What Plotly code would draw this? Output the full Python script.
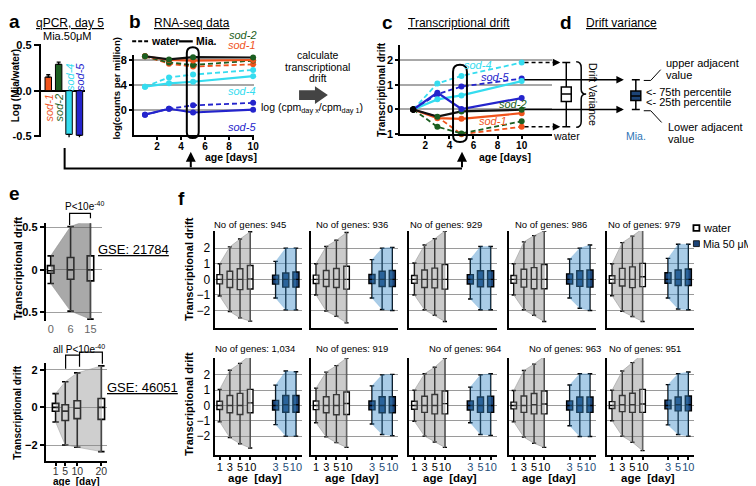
import plotly.graph_objects as go

W, H = 756, 486
FONT = "Liberation Sans, Arial, sans-serif"


def px(x):
    return x / W


def py(y):
    return 1 - y / H


# ---------------- data ----------------
# a : qPCR day 5
qpcr_genes = ["sod-1", "sod-2", "sod-4", "sod-5"]
qpcr_vals = [0.15, 0.29, -0.48, -0.49]
qpcr_err = [0.025, 0.025, 0.08, 0.08]

gene_colors = ["#f0531c", "#1b5e20", "#35dcef", "#2424cc"]
solid_line_colors = ["#f0531c", "#111111", "#35dcef", "#2424cc"]

# b : RNA-seq log(cpm), days 1,3,5,10
days = [1, 3, 5, 10]
cpm_sod1_water = [8.6, 7.4, 6.95, 7.3]
cpm_sod1_mia = [8.6, 8.0, 7.9, 8.0]
cpm_sod2_water = [8.6, 7.6, 7.2, 7.9]
cpm_sod2_mia = [8.6, 8.1, 8.45, 8.4]
cpm_sod4_water = [3.7, 5.2, 5.65, 6.4]
cpm_sod4_mia = [3.7, 4.25, 4.5, 5.4]
cpm_sod5_water = [-0.8, 0.15, 0.7, 1.1]
cpm_sod5_mia = [-0.8, 0.15, -0.45, 0.0]

# c : transcriptional drift
drift_sod1_water = [0, -0.3, -1.0, -0.7]
drift_sod1_mia = [0, -0.35, -0.38, -0.15]
drift_sod2_water = [0, -0.7, -0.97, -0.48]
drift_sod2_mia = [0, -0.29, -0.08, -0.01]
drift_sod4_water = [0, 1.05, 1.36, 1.9]
drift_sod4_mia = [0, 0.41, 0.57, 1.15]
drift_sod5_water = [0, 0.62, 0.93, 1.25]
drift_sod5_mia = [0, 0.68, 0.02, 0.46]

# d : schematic drift-variance boxes (same scale as c)
d_groups = ["water", "Mia."]
d_q1 = [0.32, 0.36]
d_median = [0.63, 0.55]
d_q3 = [0.91, 0.75]
d_low = [-0.7, 0.0]
d_high = [1.9, 1.2]

# e : GSE 21784
e1_ages = ["0", "6", "15"]
e1_q1 = [-0.04, -0.11, -0.13]
e1_med = [-0.01, 0.0, 0.0]
e1_q3 = [0.05, 0.146, 0.165]
e1_low = [-0.16, -0.485, -0.58]
e1_high = [0.165, 0.51, 0.6]

# e : GSE 46051
e2_ages = [1, 5, 10, 20]
e2_q1 = [-0.21, -0.7, -0.6, -0.64]
e2_med = [0.0, -0.2, -0.05, 0.0]
e2_q3 = [0.21, 0.14, 0.35, 0.47]
e2_low = [-0.78, -2.0, -2.12, -2.35]
e2_high = [0.73, 1.36, 1.83, 2.2]

# f : 10 gene sets
f_genes = ["945", "936", "929", "986", "979", "1,034", "919", "964", "963", "951"]
f_water_ages = ["1", "3", "5", "10"]
f_mia_ages = ["3", "5", "10"]
f_w_hi = [[1.0, 2.08, 2.58, 3.05], [1.0, 2.1, 2.5, 3.0], [1.05, 2.2, 2.6, 3.1],
          [1.0, 2.4, 2.8, 3.1], [1.0, 2.35, 2.77, 3.25], [1.05, 2.3, 2.75, 3.3],
          [1.13, 2.18, 2.6, 3.1], [1.0, 2.07, 2.5, 3.1], [0.98, 2.28, 2.7, 3.2],
          [1.0, 2.25, 2.8, 3.37]]
f_w_lo = [[-1.07, -2.06, -2.47, -2.68], [-1.0, -2.03, -2.37, -2.79], [-1.0, -1.95, -2.3, -2.7],
          [-1.0, -1.95, -2.3, -2.7], [-1.05, -2.05, -2.38, -2.7], [-1.07, -2.1, -2.5, -2.78],
          [-1.13, -2.05, -2.43, -2.74], [-1.03, -2.0, -2.39, -2.74], [-1.07, -2.07, -2.47, -2.74],
          [-1.0, -2.0, -2.4, -2.95]]
f_w_q3 = [[0.3, 0.52, 0.68, 0.89], [0.27, 0.57, 0.69, 0.84], [0.25, 0.6, 0.72, 0.94],
          [0.25, 0.65, 0.75, 0.95], [0.23, 0.7, 0.8, 1.02], [0.28, 0.65, 0.79, 1.05],
          [0.29, 0.57, 0.71, 0.88], [0.28, 0.6, 0.72, 0.95], [0.22, 0.62, 0.78, 0.95],
          [0.25, 0.65, 0.8, 1.05]]
f_w_q1 = [[-0.29, -0.52, -0.66, -0.62], [-0.27, -0.46, -0.52, -0.63], [-0.25, -0.52, -0.55, -0.63],
          [-0.25, -0.5, -0.6, -0.6], [-0.25, -0.43, -0.53, -0.47], [-0.26, -0.48, -0.59, -0.48],
          [-0.27, -0.48, -0.61, -0.59], [-0.25, -0.45, -0.55, -0.55], [-0.22, -0.45, -0.55, -0.55],
          [-0.2, -0.4, -0.45, -0.45]]
f_w_med = [[0, 0, 0, 0.02], [0, 0, 0, 0], [0, 0, 0, 0], [0, 0, 0, 0], [0, 0, 0, 0.17],
           [0, 0, 0, 0.17], [0, 0, 0, 0.13], [0, 0, 0, 0.12], [0, 0, 0.05, 0.1], [0, 0.05, 0.05, 0.1]]
f_m_hi = [[1.15, 2.0, 2.0], [1.26, 2.0, 2.05], [1.3, 2.1, 2.1], [1.3, 2.0, 2.2], [1.34, 2.25, 2.25],
          [1.33, 2.25, 2.2], [1.28, 2.0, 2.03], [1.2, 2.0, 2.07], [1.34, 2.07, 2.07], [1.36, 2.08, 2.19]]
f_m_lo = [[-1.2, -1.96, -1.96], [-1.2, -1.93, -2.0], [-1.26, -1.95, -1.95], [-1.2, -1.85, -2.0],
          [-1.2, -1.9, -1.95], [-1.25, -2.0, -2.0], [-1.21, -1.9, -1.97], [-1.13, -1.9, -1.95],
          [-1.32, -2.03, -2.03], [-1.27, -1.9, -2.0]]
f_m_q3 = [[0.27, 0.41, 0.47], [0.31, 0.52, 0.57], [0.3, 0.55, 0.55], [0.35, 0.55, 0.6],
          [0.42, 0.6, 0.66], [0.33, 0.65, 0.65], [0.29, 0.57, 0.57], [0.3, 0.55, 0.6],
          [0.3, 0.55, 0.55], [0.35, 0.55, 0.62]]
f_m_q1 = [[-0.31, -0.5, -0.5], [-0.27, -0.46, -0.46], [-0.3, -0.48, -0.48], [-0.3, -0.45, -0.5],
          [-0.25, -0.4, -0.4], [-0.3, -0.44, -0.44], [-0.29, -0.48, -0.48], [-0.3, -0.45, -0.45],
          [-0.3, -0.45, -0.45], [-0.22, -0.35, -0.35]]
f_m_med = [[0, 0, 0], [0, 0, 0], [0, 0, 0], [0, 0, 0], [0, 0, 0],
           [0, 0.05, 0.05], [0, 0, 0], [0, 0, 0], [0, 0, 0], [0, 0.05, 0.05]]

# ---------------- styling helpers ----------------
NAVY = "#1d4477"
fig = go.Figure()
layout = dict(width=W, height=H, margin=dict(l=0, r=0, t=0, b=0),
              paper_bgcolor="white", plot_bgcolor="rgba(0,0,0,0)", showlegend=False,
              font=dict(family=FONT, color="black", size=10))
shapes = []
ann = []

base = dict(showgrid=False, zeroline=False, showline=True, linecolor="black", linewidth=2,
            ticks="outside", tickcolor="black", ticklen=3, tickwidth=1.5, fixedrange=True,
            tickangle=0)


def txt(x, y, s, size=10, color="black", xanchor="center", angle=0):
    ann.append(dict(x=px(x), y=py(y), xref="paper", yref="paper", text=s, showarrow=False,
                    font=dict(size=size, color=color, family=FONT), xanchor=xanchor,
                    yanchor="middle", textangle=angle))


def pline(points, width=2, color="black", dash=None, fill=None):
    d = "M " + " L ".join(f"{px(a):.5f},{py(b):.5f}" for a, b in points)
    if fill:
        d += " Z"
    s = dict(type="path", path=d, xref="paper", yref="paper",
             line=dict(color=color, width=width, dash=dash) if width else dict(width=0))
    if fill:
        s["fillcolor"] = fill
    shapes.append(s)


def rrect(x0, y0, x1, y1, r, width=2):
    P = lambda a, b: f"{px(a):.5f},{py(b):.5f}"
    d = (f"M {P(x0 + r, y0)} L {P(x1 - r, y0)} Q {P(x1, y0)} {P(x1, y0 + r)} "
         f"L {P(x1, y1 - r)} Q {P(x1, y1)} {P(x1 - r, y1)} L {P(x0 + r, y1)} "
         f"Q {P(x0, y1)} {P(x0, y1 - r)} L {P(x0, y0 + r)} Q {P(x0, y0)} {P(x0 + r, y0)} Z")
    shapes.append(dict(type="path", path=d, xref="paper", yref="paper",
                       line=dict(color="black", width=width)))


def arrow(xt, yt, ax, ay, width=2, yref="paper"):
    ann.append(dict(x=px(xt), y=(py(yt) if yref == "paper" else yt), xref="paper", yref=yref,
                    ax=ax, ay=ay, showarrow=True, arrowhead=2, arrowsize=1, arrowwidth=width,
                    arrowcolor="black", text="", standoff=0))


# ---------------- panel a ----------------
layout["xaxis"] = dict(base, domain=[px(33), px(78)], range=[-0.72, 3.58], anchor="y",
                       showline=False, ticks="", showticklabels=False, type="category")
layout["yaxis"] = dict(base, domain=[py(127), py(32)], range=[-0.51, 0.51], anchor="x",
                       tickvals=[-0.5, 0, 0.5], ticktext=["-0.5", "0.0", "0.5"], ticklen=5,
                       tickfont=dict(size=11, weight="bold"), zeroline=True,
                       zerolinecolor="black", zerolinewidth=2)
fig.add_trace(go.Bar(x=qpcr_genes, y=qpcr_vals, width=0.62, xaxis="x", yaxis="y",
                     marker=dict(color=gene_colors, line=dict(color="black", width=1)),
                     error_y=dict(type="data", symmetric=False,
                                  array=[e if v > 0 else 0 for v, e in zip(qpcr_vals, qpcr_err)],
                                  arrayminus=[e if v < 0 else 0 for v, e in zip(qpcr_vals, qpcr_err)],
                                  color="black", thickness=1.3, width=2),
                     cliponaxis=False))
txt(7, 9, "<b>a</b>", 19)
txt(62, 10, "<u>qPCR, day 5</u>", 12)
txt(7, 74, "<b>Log (Mia/water)</b>", 10, angle=-90)
txt(60, 24, "Mia.50μM", 11)
for xx, yy, g, col in [(41, 97, "sod-1", gene_colors[0]), (51, 97, "sod-2", gene_colors[1]),
                       (62, 66, "sod-4", gene_colors[2]), (72, 66, "sod-5", gene_colors[3])]:
    txt(xx, yy, f"<i>{g}</i>", 11, color=col, angle=-90)

# ---------------- panel b ----------------
layout["xaxis2"] = dict(base, domain=[px(127), px(248)], range=[0.1, 10.1], anchor="y2",
                        tickvals=[2, 4, 6, 8, 10], tickfont=dict(size=10, weight="bold"),
                        ticklabelstandoff=-2)
layout["yaxis2"] = dict(base, domain=[py(125), py(43)], range=[-4.1, 8.8], anchor="x2",
                        tickvals=[0, 4, 8], tickfont=dict(size=11, weight="bold"),
                        showgrid=True, gridcolor="#a8a8a8", gridwidth=1.5)
b_water = [cpm_sod1_water, cpm_sod2_water, cpm_sod4_water, cpm_sod5_water]
b_mia = [cpm_sod1_mia, cpm_sod2_mia, cpm_sod4_mia, cpm_sod5_mia]
for i in range(4):
    fig.add_trace(go.Scatter(x=days, y=b_water[i], mode="lines+markers", xaxis="x2", yaxis="y2",
                             line=dict(color=gene_colors[i], width=1.8, dash="5px,3px"),
                             marker=dict(size=6, color=gene_colors[i]), cliponaxis=False))
for i in range(4):
    fig.add_trace(go.Scatter(x=days, y=b_mia[i], mode="lines+markers", xaxis="x2", yaxis="y2",
                             line=dict(color=solid_line_colors[i], width=2.2),
                             marker=dict(size=6, color=gene_colors[i]), cliponaxis=False))
rrect(180, 35, 192, 128, 6)
txt(128, 9, "<b>b</b>", 19)
txt(185, 10, "<u>RNA-seq data</u>", 12)
txt(109, 77, "<b>log(counts per million)</b>", 9.5, angle=-90)
pline([(125, 29), (141, 29)], width=2, dash="4px,2px")
txt(142, 29, "<b>water</b>", 10.5, xanchor="left")
pline([(172, 29), (186, 29)], width=2.2)
txt(187, 29, "<b>Mia.</b>", 10.5, xanchor="left")
txt(237, 22, "<i>sod-2</i>", 11, color=gene_colors[1])
txt(236, 33, "<i>sod-1</i>", 11, color=gene_colors[0])
txt(236, 80, "<i>sod-4</i>", 11, color=gene_colors[2])
txt(236, 117, "<i>sod-5</i>", 11, color=gene_colors[3])
txt(224, 147, "<b>age [days]</b>", 10.5)

# middle: calculation arrow
txt(312, 43, "calculate", 10.5)
txt(312, 55, "transcriptional", 10.5)
txt(312, 67, "drift", 10.5)
pline([(293, 79), (309, 79), (309, 75), (322, 84), (309, 93), (309, 89), (293, 89)],
      width=0, fill="#444444")
txt(306, 97, "log (cpm<sub>day x</sub>/cpm<sub>day 1</sub>)", 10.5)

# ---------------- panel c ----------------
layout["xaxis3"] = dict(base, domain=[px(395), px(548)], range=[-0.07, 12.55], anchor="y3",
                        tickvals=[2, 4, 6, 8, 10], tickfont=dict(size=10, weight="bold"),
                        ticklabelstandoff=-2)
layout["yaxis3"] = dict(base, domain=[py(124), py(33)], range=[-1.0, 2.6], anchor="x3",
                        tickvals=[-1, 0, 1, 2], ticktext=["−1", "0", "1", "2"],
                        tickfont=dict(size=11, weight="bold"),
                        showgrid=True, gridcolor="#a8a8a8", gridwidth=1.5)
c_water = [drift_sod1_water, drift_sod2_water, drift_sod4_water, drift_sod5_water]
c_mia = [drift_sod1_mia, drift_sod2_mia, drift_sod4_mia, drift_sod5_mia]
for i in range(4):
    fig.add_trace(go.Scatter(x=days, y=c_water[i], mode="lines+markers", xaxis="x3", yaxis="y3",
                             line=dict(color=gene_colors[i], width=1.8, dash="5px,3px"),
                             marker=dict(size=6, color=["black"] + [gene_colors[i]] * 3),
                             cliponaxis=False))
for i in range(4):
    fig.add_trace(go.Scatter(x=days, y=c_mia[i], mode="lines+markers", xaxis="x3", yaxis="y3",
                             line=dict(color=solid_line_colors[i], width=2.2),
                             marker=dict(size=6, color=["black"] + [gene_colors[i]] * 3),
                             cliponaxis=False))
rrect(448, 53, 462, 132, 7)
txt(382, 10, "<b>c</b>", 19)
txt(454, 10, "<u>Transcriptional drift</u>", 12)
txt(376, 78, "<b>Transcriptional drift</b>", 10, angle=-90)
txt(500, 147, "<b>age [days]</b>", 10.5)
txt(473, 53, "<i>sod-4</i>", 11, color=gene_colors[2])
txt(490, 65, "<i>sod-5</i>", 11, color=gene_colors[3])
txt(508, 93, "<i>sod-2</i>", 11, color=gene_colors[1])
txt(488, 110, "<i>sod-1</i>", 11, color=gene_colors[0])

# arrows c -> d (y in data units of c): water extremes dashed, Mia extremes solid
for yv in [d_high[0], d_low[0]]:
    shapes.append(dict(type="line", xref="paper", yref="y3", x0=px(520), x1=px(550), y0=yv, y1=yv,
                       line=dict(color="black", width=1.5, dash="4px,3px")))
    arrow(556, yv, -8, 0, width=1.5, yref="y3")
for yv in [d_high[1], d_low[1]]:
    arrow(620, yv, -(620 - 519), 0, width=1.5, yref="y3")

# ---------------- panel d ----------------
layout["xaxis4"] = dict(domain=[px(550), px(650)], range=[0, 100], anchor="y4", visible=False,
                        fixedrange=True)
layout["yaxis4"] = dict(domain=[py(124), py(33)], range=[-1.0, 2.6], anchor="x4", visible=False,
                        fixedrange=True)
for j, (xx, fc) in enumerate([(12, "white"), (82, NAVY)]):
    fig.add_trace(go.Box(x=[xx], q1=[d_q1[j]], median=[d_median[j]], q3=[d_q3[j]],
                         lowerfence=[d_low[j]], upperfence=[d_high[j]], width=10,
                         whiskerwidth=0.8, fillcolor=fc, line=dict(color="black", width=1.5),
                         boxpoints=False, xaxis="x4", yaxis="y4", hoverinfo="skip"))
# brace
Pd = lambda a, b: f"{px(a):.5f},{py(b):.5f}"
shapes.append(dict(type="path", xref="paper", yref="paper", line=dict(color="black", width=1.5),
                   path=(f"M {Pd(572, 50)} Q {Pd(577, 50)} {Pd(577, 56)} L {Pd(577, 78)} "
                         f"Q {Pd(577, 83)} {Pd(582, 83)} Q {Pd(577, 83)} {Pd(577, 88)} "
                         f"L {Pd(577, 111)} Q {Pd(577, 117)} {Pd(572, 117)}")))
txt(589, 83, "Drift Variance", 10.5, angle=90)
txt(562, 10, "<b>d</b>", 19)
txt(618, 10, "<u>Drift variance</u>", 12)
pline([(640, 69), (647, 69), (657, 58)], width=1)
pline([(640, 100), (647, 100), (658, 112)], width=1)
txt(660, 51, "upper adjacent", 11, xanchor="left")
txt(660, 63, "value", 11, xanchor="left")
txt(640, 81, "&lt;- 75th percentile", 11, xanchor="left")
txt(640, 91, "&lt;- 25th percentile", 11, xanchor="left")
txt(662, 117, "Lower adjacent", 11, xanchor="left")
txt(662, 129, "value", 11, xanchor="left")
txt(562, 126, "water", 10.5)
txt(632, 126, "Mia.", 10.5, color="#2e75b6")

# connector
pline([(57, 138), (57, 159), (457, 159)], width=2)
arrow(184, 142, 0, 17, width=2)
arrow(457, 142, 0, 17, width=2)

# ---------------- panel e ----------------
layout["xaxis5"] = dict(base, domain=[px(38), px(95)], range=[-0.25, 2.6], anchor="y5",
                        showline=False, ticks="", type="category",
                        tickfont=dict(size=11, color="#666666"))
layout["yaxis5"] = dict(base, domain=[py(315), py(215)], range=[-0.6, 0.55], anchor="x5",
                        tickvals=[-0.5, 0, 0.5], ticktext=["-0.5", "0", "0.5"], ticklen=4,
                        tickfont=dict(size=11, weight="bold"),
                        showgrid=True, gridcolor="#a0a0a0", gridwidth=1.2)
fig.add_trace(go.Scatter(x=e1_ages + e1_ages[::-1], y=e1_high + e1_low[::-1], fill="toself",
                         fillcolor="rgba(90,90,90,0.52)", line=dict(color="#888888", width=0.5),
                         mode="lines", xaxis="x5", yaxis="y5", hoverinfo="skip"))
fig.add_trace(go.Box(x=e1_ages, q1=e1_q1, median=e1_med, q3=e1_q3, lowerfence=e1_low,
                     upperfence=e1_high, width=0.33, whiskerwidth=1, fillcolor="white",
                     line=dict(color="black", width=1.6), boxpoints=False,
                     xaxis="x5", yaxis="y5"))
txt(7, 185, "<b>e</b>", 19)
txt(10, 261, "<b>Transcriptional drift</b>", 11, angle=-90)
txt(77, 197, "P&lt;10e<sup>-40</sup>", 10)
pline([(62, 217), (62, 205), (83, 205), (83, 210)], width=1.2)
txt(126, 242, "<u>GSE: 21784</u>", 13)

layout["xaxis6"] = dict(base, domain=[px(38), px(100)], range=[-3.1, 22.5], anchor="y6",
                        tickvals=e2_ages, tickfont=dict(size=10.5, color="#333333"),
                        ticklabelstandoff=-3)
layout["yaxis6"] = dict(base, domain=[py(458), py(358)], range=[-2.83, 2.36], anchor="x6",
                        tickvals=[-2, 0, 2], ticklen=4, tickfont=dict(size=11, weight="bold"),
                        showgrid=True, gridcolor="#a0a0a0", gridwidth=1.2)
fig.add_trace(go.Scatter(x=e2_ages + e2_ages[::-1], y=e2_high + e2_low[::-1], fill="toself",
                         fillcolor="rgba(130,130,130,0.38)", line=dict(color="#999999", width=0.5),
                         mode="lines", xaxis="x6", yaxis="y6", hoverinfo="skip"))
fig.add_trace(go.Box(x=e2_ages, q1=e2_q1, median=e2_med, q3=e2_q3, lowerfence=e2_low,
                     upperfence=e2_high, width=2.7, whiskerwidth=1, fillcolor="white",
                     line=dict(color="black", width=1.6), boxpoints=False,
                     xaxis="x6", yaxis="y6"))
txt(10, 408, "<b>Transcriptional drift</b>", 10, angle=-90)
txt(71, 344, "all P&lt;10e<sup>-40</sup>", 10)
pline([(58, 364), (58, 350), (72, 350), (72, 362)], width=1.2)
pline([(72, 350), (72, 347), (95, 347), (95, 359)], width=1.2)
txt(135, 383, "<u>GSE: 46051</u>", 13)
txt(69, 479.5, "<b>age  [day]</b>", 10)

# ---------------- panel f ----------------
f_col_x = [208, 305, 404, 504, 603]
row_dom = [[py(322), py(223)], [py(452), py(353)]]
row_rng = [[-3.1, 3.1], [-3.22, 3.1]]
water_pos = [0.5, 1.5, 2.5, 3.5]
mia_pos = [6, 7, 8]
gene_lbl_x = [[205, 308, 403, 508, 602], [206, 308, 422, 522, 603]]
for i in range(10):
    r, c = divmod(i, 5)
    k = 7 + i
    x0 = f_col_x[c]
    xa = dict(base, domain=[px(x0), px(x0 + 88)], range=[0, 8.6], anchor=f"y{k}",
              tickvals=water_pos + mia_pos,
              ticktext=f_water_ages + [f'<span style="color:#1f4e79">{a}</span>' for a in f_mia_ages],
              tickfont=dict(size=11), ticklabelstandoff=-2)
    if r == 0:
        xa.update(showticklabels=False, ticks="")
    ya = dict(base, domain=row_dom[r], range=row_rng[r], anchor=f"x{k}",
              tickvals=[-2, -1, 0, 1, 2], ticktext=["−2", "−1", "0", "1", "2"], ticks="",
              tickfont=dict(size=12), showgrid=True, gridcolor="#9a9a9a", gridwidth=1.2,
              showticklabels=(c == 0))
    layout[f"xaxis{k}"] = xa
    layout[f"yaxis{k}"] = ya
    xr, yr = f"x{k}", f"y{k}"
    fig.add_trace(go.Scatter(x=water_pos + water_pos[::-1], y=f_w_hi[i] + f_w_lo[i][::-1],
                             fill="toself", fillcolor="rgba(130,130,130,0.42)",
                             line=dict(color="#9a9a9a", width=0.6), mode="lines",
                             xaxis=xr, yaxis=yr, hoverinfo="skip"))
    fig.add_trace(go.Scatter(x=mia_pos + mia_pos[::-1], y=f_m_hi[i] + f_m_lo[i][::-1],
                             fill="toself", fillcolor="rgba(60,140,200,0.44)",
                             line=dict(color="rgba(60,140,200,0.3)", width=0.5), mode="lines",
                             xaxis=xr, yaxis=yr, hoverinfo="skip"))
    fig.add_trace(go.Box(x=water_pos, q1=f_w_q1[i], median=f_w_med[i], q3=f_w_q3[i],
                         lowerfence=f_w_lo[i], upperfence=f_w_hi[i], width=0.55, whiskerwidth=0.75,
                         fillcolor="white", line=dict(color="black", width=1.4), boxpoints=False,
                         xaxis=xr, yaxis=yr))
    fig.add_trace(go.Box(x=mia_pos, q1=f_m_q1[i], median=f_m_med[i], q3=f_m_q3[i],
                         lowerfence=f_m_lo[i], upperfence=f_m_hi[i], width=0.6, whiskerwidth=0.75,
                         fillcolor=NAVY, line=dict(color="black", width=1.4), boxpoints=False,
                         xaxis=xr, yaxis=yr))
    txt(gene_lbl_x[r][c], 216 if r == 0 else 343, f"No of genes: {f_genes[i]}", 9.5,
        xanchor="left")
    if r == 1:
        txt(x0 + 41, 476, "<b>age  [day]</b>", 11.5)

txt(175, 190, "<b>f</b>", 19)
txt(182, 262, "<b>Transcriptional drift</b>", 11, angle=-90)
txt(182, 400, "<b>Transcriptional drift</b>", 11, angle=-90)
# legend
shapes.append(dict(type="rect", xref="paper", yref="paper", x0=px(690), x1=px(696),
                   y0=py(223), y1=py(217), fillcolor="white", line=dict(color="black", width=1.8)))
shapes.append(dict(type="rect", xref="paper", yref="paper", x0=px(690), x1=px(696),
                   y0=py(239), y1=py(233), fillcolor=NAVY, line=dict(color="black", width=0.8)))
txt(698, 220, "water", 11, xanchor="left")
txt(698, 236, "Mia 50 μM", 10.5, xanchor="left")

layout["shapes"] = shapes
layout["annotations"] = ann
layout["boxmode"] = "overlay"
fig.update_layout(**layout)
fig.write_html("out.html")
